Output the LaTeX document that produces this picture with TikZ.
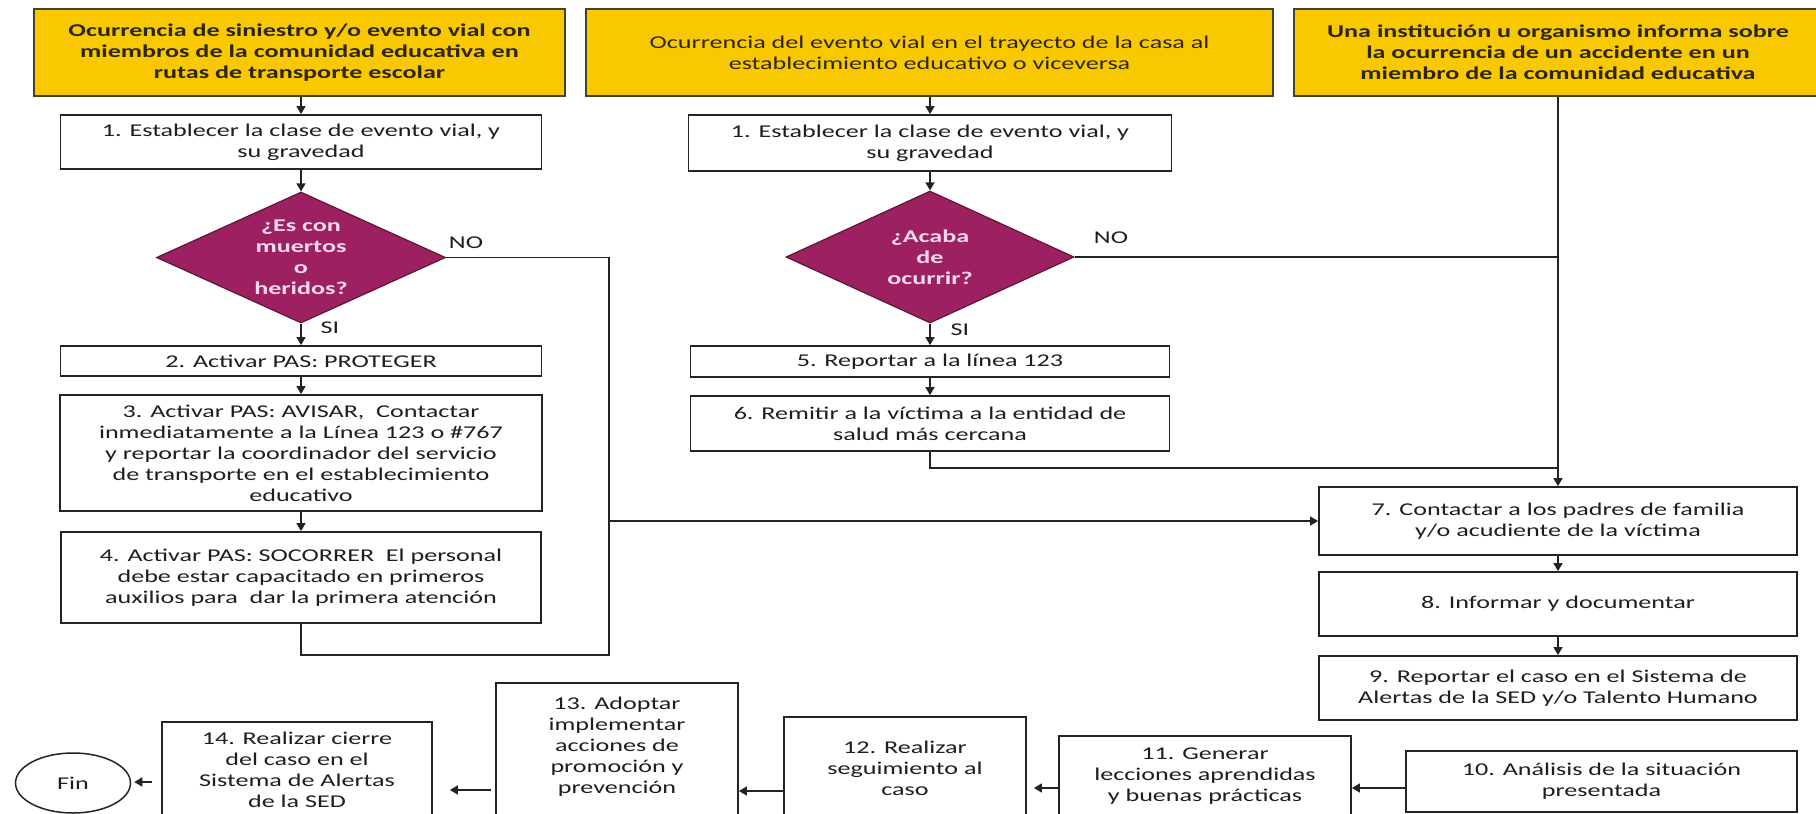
\documentclass[tikz,border=0pt]{standalone}
\usepackage{fontspec}
\setmainfont[FakeStretch=1.45]{Carlito}
\usetikzlibrary{shapes.geometric,arrows.meta}
\definecolor{ybox}{RGB}{248,201,0}
\definecolor{yline}{RGB}{70,65,40}
\definecolor{htext}{RGB}{45,38,10}
\definecolor{dfill}{RGB}{157,32,96}
\definecolor{dline}{RGB}{95,20,58}
\definecolor{dtext}{RGB}{246,218,236}
\definecolor{linec}{RGB}{35,35,35}
\definecolor{btext}{RGB}{30,30,30}
\tikzset{
  txt/.style={font=\fontsize{18}{21}\selectfont, align=center, text=btext},
  head/.style={txt, draw=yline, line width=1.8pt, fill=ybox, text=htext, inner sep=0pt},
  stepbox/.style={txt, draw=linec, line width=1.8pt, fill=white, inner sep=0pt},
  plainbox/.style={draw=linec, line width=1.8pt, fill=white, inner sep=0pt},
  decision/.style={shape=diamond, draw=dline, line width=1.2pt, fill=dfill, inner sep=0pt},
  dtxt/.style={txt, text=dtext, font=\fontsize{18}{21}\selectfont\bfseries},
  conn/.style={draw=linec, line width=1.5pt},
  arr/.style={conn, -{Triangle[width=9pt,length=8pt]}},
  lbl/.style={txt, inner sep=0pt}
}
\begin{document}
\begin{tikzpicture}[x=1pt,y=-1pt]
\useasboundingbox (0,0) rectangle (1816,814);
\clip (0,0) rectangle (1816,814);

% headers
\node[head, minimum width=531pt, minimum height=87pt, font=\fontsize{18}{21}\selectfont\bfseries] (y1) at (299.5,52.5)
  {Ocurrencia de siniestro y/o evento vial con\\miembros de la comunidad educativa en\\rutas de transporte escolar};
\node[head, minimum width=687pt, minimum height=87pt] (y2) at (929.5,52.5)
  {Ocurrencia del evento vial en el trayecto de la casa al\\establecimiento educativo o viceversa};
\node[head, minimum width=528pt, minimum height=87pt, font=\fontsize{18}{21}\selectfont\bfseries] (y3) at (1558,52.5)
  {Una institución u organismo informa sobre\\la ocurrencia de un accidente en un\\miembro de la comunidad educativa};

% left column
\node[stepbox, minimum width=481pt, minimum height=54pt] (b1l) at (301,142)
  {1. Establecer la clase de evento vial, y\\su gravedad};
\node[decision, minimum width=289pt, minimum height=131pt] (d1) at (301,257.5) {};
\node[dtxt] (d1t) at (301,257.5) {¿Es con\\muertos\\o\\heridos?};
\node[stepbox, minimum width=481pt, minimum height=30pt] (b2) at (301,361)
  {2. Activar PAS: PROTEGER};
\node[stepbox, minimum width=482pt, minimum height=116pt] (b3) at (301,453)
  {3. Activar PAS: AVISAR,\ \ Contactar\\inmediatamente a la Línea 123 o \#767\\y reportar la coordinador del servicio\\de transporte en el establecimiento\\educativo};
\node[stepbox, minimum width=480pt, minimum height=91pt] (b4) at (301,577.5)
  {4. Activar PAS: SOCORRER\ \ El personal\\debe estar capacitado en primeros\\auxilios para\ \ dar la primera atención};

% middle column
\node[stepbox, minimum width=483pt, minimum height=56pt] (b1m) at (930,143)
  {1. Establecer la clase de evento vial, y\\su gravedad};
\node[decision, minimum width=288pt, minimum height=132pt] (d2) at (930,257) {};
\node[dtxt] (d2t) at (930,257) {¿Acaba\\de\\ocurrir?};
\node[stepbox, minimum width=479pt, minimum height=31pt] (b5) at (930,361.5)
  {5. Reportar a la línea 123};
\node[stepbox, minimum width=479pt, minimum height=55pt] (b6) at (930,423.5)
  {6. Remitir a la víctima a la entidad de\\salud más cercana};

% right column
\node[stepbox, minimum width=478pt, minimum height=68pt] (b7) at (1558,521)
  {7. Contactar a los padres de familia\\y/o acudiente de la víctima};
\node[stepbox, minimum width=478pt, minimum height=64pt] (b8) at (1558,604)
  {8. Informar y documentar};
\node[stepbox, minimum width=478pt, minimum height=64pt] (b9) at (1558,688)
  {9. Reportar el caso en el Sistema de\\Alertas de la SED y/o Talento Humano};

% bottom row
\node[stepbox, minimum width=391pt, minimum height=61pt] (b10) at (1601.5,781.5)
  {10. Análisis de la situación\\presentada};
\node[plainbox, minimum width=292pt, minimum height=108pt] (b11) at (1205,790) {};
\node[txt] (t11) at (1205,776) {11. Generar\\lecciones aprendidas\\y buenas prácticas};
\node[plainbox, minimum width=242pt, minimum height=126pt] (b12) at (905,780) {};
\node[txt] (t12) at (905,768) {12. Realizar\\seguimiento al\\caso};
\node[plainbox, minimum width=242pt, minimum height=154pt] (b13) at (617,760) {};
\node[txt] (t13) at (617,747) {13. Adoptar\\implementar\\acciones de\\promoción y\\prevención};
\node[plainbox, minimum width=270pt, minimum height=116pt] (b14) at (297,780) {};
\node[txt] (t14) at (297,770) {14. Realizar cierre\\del caso en el\\Sistema de Alertas\\de la SED};
\node[txt, shape=ellipse, draw=linec, line width=1.5pt, fill=white, minimum width=115pt, minimum height=60pt, inner sep=0pt] (fin) at (73,783) {Fin};

% junction coordinates
\coordinate (j1) at (609,521);
\coordinate (j2) at (609,655);
\coordinate (j3) at (1558,257);
\coordinate (j4) at (1558,468);

% left column connectors
\draw[arr] (y1.south -| b1l.north) -- (b1l.north);
\draw[arr] (b1l.south) -- (d1.north);
\draw[arr] (d1.south) -- (b2.north);
\draw[arr] (b2.south) -- (b3.north);
\draw[arr] (b3.south) -- (b4.north);
\draw[arr] (d1.east) -| (j1) -- (b7.west);
\draw[conn] (b4.south) |- (j2) -- (j1);
\node[lbl] (no1) at (466,243) {NO};
\node[lbl] (si1) at (330,328) {SI};

% middle column connectors
\draw[arr] (y2.south -| b1m.north) -- (b1m.north);
\draw[arr] (b1m.south) -- (d2.north);
\draw[arr] (d2.south) -- (b5.north);
\draw[arr] (b5.south) -- (b6.north);
\draw[conn] (d2.east) -- (j3);
\draw[conn] (b6.south) |- (j4);
\node[lbl] (no2) at (1111,238) {NO};
\node[lbl] (si2) at (960,330) {SI};

% right column connectors
\draw[arr] (y3.south) -- (b7.north);
\draw[arr] (b7.south) -- (b8.north);
\draw[arr] (b8.south) -- (b9.north);

% bottom row connectors
\draw[arr] ([yshift=-6.5pt]b10.west) -- ([yshift=-6.5pt]b10.west -| b11.east);
\draw[arr, shorten >=7pt] ([yshift=2pt]b11.west) -- ([yshift=2pt]b11.west -| b12.east);
\draw[arr] ([yshift=-11pt]b12.west) -- ([yshift=-11pt]b12.west -| b13.east);
\draw[arr, shorten >=17pt, shorten <=4pt] ([yshift=-30pt]b13.west) -- ([yshift=-30pt]b13.west -| b14.east);
\draw[arr, shorten >=3pt, shorten <=9pt] ([yshift=-2pt]b14.west) -- ([yshift=-2pt]b14.west -| fin.east);
\end{tikzpicture}
\end{document}
